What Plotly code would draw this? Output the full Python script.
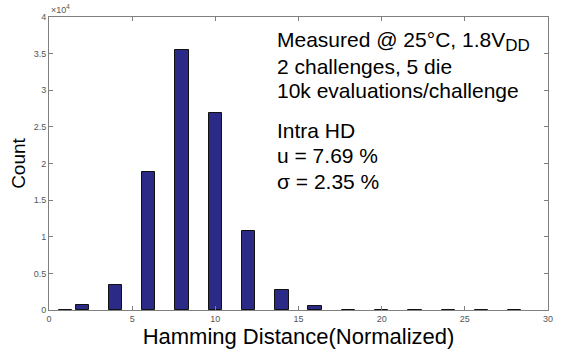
import plotly.graph_objects as go

# Hamming distance bins (normalized %) and counts
hd_bins = [1, 2, 4, 6, 8, 10, 12, 14, 16, 18, 20, 22, 24, 26, 28]
counts = [40, 650, 3450, 18800, 35550, 26850, 10850, 2750, 550, 60, 25, 40, 20, 20, 30]

y_tickvals = [0, 5000, 10000, 15000, 20000, 25000, 30000, 35000, 40000]
y_ticktext = ["0", "0.5", "1", "1.5", "2", "2.5", "3", "3.5", "4"]
x_tickvals = [0, 5, 10, 15, 20, 25, 30]

FONT = "Liberation Sans, Arial, sans-serif"

fig = go.Figure()
fig.add_trace(go.Bar(
    x=hd_bins, y=counts, width=0.8,
    marker=dict(color="#2B2A86", line=dict(color="#111111", width=1)),
))

axis_common = dict(
    showgrid=False, zeroline=False, showline=True, linecolor="#808080", linewidth=1,
    mirror="ticks", ticks="inside", ticklen=4, tickcolor="#808080",
    tickfont=dict(family=FONT, size=9, color="#555555"),
)
fig.update_xaxes(range=[0, 30], tickvals=x_tickvals, **axis_common,
                 title=dict(text="Hamming Distance(Normalized)",
                            font=dict(family=FONT, size=22, color="#000000"), standoff=5))
fig.update_yaxes(range=[0, 40000], tickvals=y_tickvals, ticktext=y_ticktext, **axis_common,
                 title=dict(text="Count", font=dict(family=FONT, size=19, color="#000000"), standoff=3))

txt = dict(family=FONT, size=21, color="#000000")
lines = [
    "Measured @ 25°C, 1.8V<sub><span style='font-size:17px'>DD</span></sub>",
    "2 challenges, 5 die",
    "10k evaluations/challenge",
    "Intra HD",
    "u = 7.69 %",
    "σ = 2.35 %",
]
ys = [0.915, 0.83, 0.748, 0.612, 0.527, 0.44]
for t, yv in zip(lines, ys):
    fig.add_annotation(text=t, xref="paper", yref="paper", x=0.452, y=yv,
                       xanchor="left", yanchor="middle", showarrow=False, font=txt)

fig.add_annotation(text="×10<sup>4</sup>", xref="paper", yref="paper", x=0.0, y=1.0,
                   xanchor="left", yanchor="bottom", showarrow=False,
                   font=dict(family=FONT, size=9, color="#555555"))

fig.update_layout(
    width=563, height=355, margin=dict(l=49, r=10, t=17, b=45),
    plot_bgcolor="white", paper_bgcolor="white", showlegend=False, bargap=0,
)
fig.write_html("out.html")
